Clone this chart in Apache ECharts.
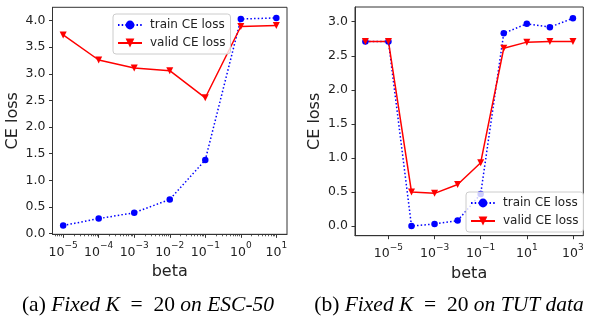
<!DOCTYPE html>
<html>
<head>
<meta charset="utf-8">
<script src="https://cdn.jsdelivr.net/npm/echarts@6/dist/echarts.min.js"></script>
<style>
  html, body { margin: 0; padding: 0; background: #fff; }
  #chart { width: 590px; height: 322px; }
</style>
</head>
<body>
<div id="chart"></div>
<script>
// (a) ESC-50, beta as log10 exponent
const betaA = [-5, -4, -3, -2, -1, 0, 1]
const trainA = [0.15, 0.28, 0.39, 0.64, 1.38, 4.03, 4.05]
const validA = [3.73, 3.26, 3.11, 3.06, 2.55, 3.89, 3.91]

// (b) TUT data
const betaB = [-6, -5, -4, -3, -2, -1, 0, 1, 2, 3]
const trainB = [2.71, 2.71, 0.0, 0.03, 0.08, 0.47, 2.83, 2.97, 2.92, 3.05]
const validB = [2.71, 2.71, 0.50, 0.48, 0.61, 0.93, 2.61, 2.70, 2.71, 2.71]

const xTicksA = [-5, -4, -3, -2, -1, 0, 1]
const xTicksB = [-5, -3, -1, 1, 3]
const yTicksA = [0, 0.5, 1, 1.5, 2, 2.5, 3, 3.5, 4]
const yTicksB = [0, 0.5, 1, 1.5, 2, 2.5, 3]

const captionA = '(a) {i|Fixed K}\u2002=\u200220 {i|on ESC-50}'
const captionB = '(b) {i|Fixed K}\u2002=\u200220 {i|on TUT data}'

const FONT = 'DejaVu Sans'
const INK = '#222'

// minor log ticks for the left plot
let minorA = []
for (let e = -6; e <= 1; e++) {
  for (let k = 2; k <= 9; k++) {
    let v = e + Math.log10(k)
    if (v > -5.3 && v < 1.3) minorA.push(v)
  }
}

const pow10 = v => '{b|10}{s|' + (v < 0 ? '\u2212' : '') + Math.abs(v) + '}'
const richSup = {
  b: {fontFamily: FONT, fontSize: 12.5, color: INK, lineHeight: 18, verticalAlign: 'bottom'},
  s: {fontFamily: FONT, fontSize: 9, color: INK, lineHeight: 10, verticalAlign: 'top'}
}

const xAxisBase = (grid, min, max, ticks) => ({
  type: 'value', gridIndex: grid, min: min, max: max,
  name: 'beta', nameLocation: 'middle', nameGap: 28,
  nameTextStyle: {fontFamily: FONT, fontSize: 16, color: INK},
  axisLine: {show: true, onZero: false, lineStyle: {color: '#333', width: 1}},
  axisTick: {show: true, inside: false, length: 3.5, lineStyle: {color: '#333'}, customValues: ticks},
  axisLabel: {margin: 7, formatter: pow10, rich: richSup, customValues: ticks},
  splitLine: {show: false}
})

const yAxisBase = (grid, min, max, ticks) => ({
  type: 'value', gridIndex: grid, min: min, max: max,
  name: 'CE loss', nameLocation: 'middle', nameGap: 32,
  nameTextStyle: {fontFamily: FONT, fontSize: 16, color: INK},
  axisLine: {show: true, onZero: false, lineStyle: {color: '#333', width: 1}},
  axisTick: {show: true, inside: false, length: 3.5, lineStyle: {color: '#333'}, customValues: ticks},
  axisLabel: {margin: 7, fontFamily: FONT, fontSize: 12.5, color: INK,
    formatter: v => v.toFixed(1), customValues: ticks},
  splitLine: {show: false}
})

const zip = (xs, ys) => xs.map((x, i) => [x, ys[i]])

const trainStyle = {
  type: 'line', symbol: 'circle', symbolSize: 6.5,
  itemStyle: {color: '#0000ff'},
  lineStyle: {color: '#0000ff', width: 1.5, type: [1.5, 2.2]}
}
const validStyle = {
  type: 'line', symbol: 'triangle', symbolRotate: 180, symbolSize: 7,
  itemStyle: {color: '#ff0000'},
  lineStyle: {color: '#ff0000', width: 1.5, type: 'solid'}
}

const legendBase = {
  orient: 'vertical', padding: [4, 5, 4, 4], itemWidth: 24, itemHeight: 11, itemGap: 4,
  textStyle: {fontFamily: FONT, fontSize: 12, color: INK, lineHeight: 14, padding: [0, 0, 0, 3]},
  borderColor: '#ccc', borderWidth: 1, borderRadius: 3,
  backgroundColor: 'rgba(255,255,255,0.8)',
  data: ['train CE loss', 'valid CE loss']
}

const chart = echarts.init(document.getElementById('chart'), null, {renderer: 'canvas'})

chart.setOption({
  animation: false,
  backgroundColor: '#fff',
  grid: [
    {left: 52.5, top: 7.3, width: 234.5, height: 227, show: true, borderColor: '#333', borderWidth: 1, backgroundColor: 'transparent'},
    {left: 355, top: 7, width: 228.3, height: 228.7, show: true, borderColor: '#333', borderWidth: 1, backgroundColor: 'transparent'}
  ],
  xAxis: [
    xAxisBase(0, -5.3, 1.3, xTicksA),
    {
      type: 'value', gridIndex: 0, min: -5.3, max: 1.3, position: 'bottom',
      axisLine: {show: false, onZero: false}, axisLabel: {show: false}, splitLine: {show: false},
      axisTick: {show: true, length: 2, lineStyle: {color: '#333', width: 0.8}, customValues: minorA}
    },
    xAxisBase(1, -6.45, 3.45, xTicksB)
  ],
  yAxis: [
    yAxisBase(0, -0.015, 4.25, yTicksA),
    yAxisBase(1, -0.142, 3.216, yTicksB)
  ],
  legend: [
    Object.assign({}, legendBase, {left: 113, top: 14}),
    Object.assign({}, legendBase, {left: 466, top: 192})
  ],
  series: [
    Object.assign({name: 'train CE loss', xAxisIndex: 0, yAxisIndex: 0, data: zip(betaA, trainA)}, trainStyle),
    Object.assign({name: 'valid CE loss', xAxisIndex: 0, yAxisIndex: 0, data: zip(betaA, validA)}, validStyle),
    Object.assign({name: 'train CE loss', xAxisIndex: 2, yAxisIndex: 1, data: zip(betaB, trainB)}, trainStyle),
    Object.assign({name: 'valid CE loss', xAxisIndex: 2, yAxisIndex: 1, data: zip(betaB, validB)}, validStyle)
  ],
  graphic: [
    {type: 'text', x: 148, y: 305, style: {text: captionA, align: 'center', verticalAlign: 'middle',
      fontFamily: 'Liberation Serif', fontSize: 21.5, fill: '#000',
      rich: {i: {fontFamily: 'Liberation Serif', fontSize: 21.5, fontStyle: 'italic', fill: '#000'}}}},
    {type: 'text', x: 449, y: 305, style: {text: captionB, align: 'center', verticalAlign: 'middle',
      fontFamily: 'Liberation Serif', fontSize: 21.5, fill: '#000',
      rich: {i: {fontFamily: 'Liberation Serif', fontSize: 21.5, fontStyle: 'italic', fill: '#000'}}}}
  ]
})
</script>
</body>
</html>
